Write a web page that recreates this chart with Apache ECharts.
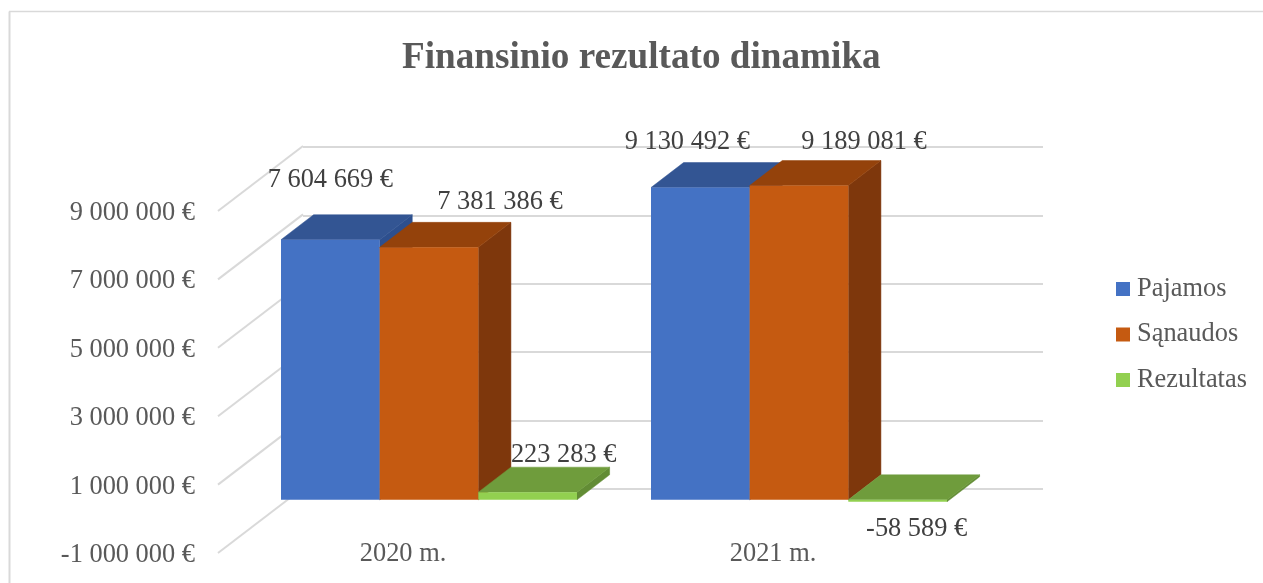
<!DOCTYPE html>
<html><head><meta charset="utf-8">
<style>html,body{margin:0;padding:0;background:#fff}#c{width:1263px;height:583px}</style>
<script src="https://cdn.jsdelivr.net/npm/echarts@6/dist/echarts.min.js"></script>
</head><body><div id="c"></div>
<script>
const titleText = 'Finansinio rezultato dinamika';
const categories = ['2020 m.', '2021 m.'];
const seriesNames = ['Pajamos', 'Sąnaudos', 'Rezultatas'];
const pajamos = [7604669, 9130492];
const sanaudos = [7381386, 9189081];
const rezultatas = [223283, -58589];
const axisTicks = [-1000000, 1000000, 3000000, 5000000, 7000000, 9000000];

const FONT = '"Liberation Serif", serif';
const LIFT = 2;                      // axis labels sit this far below the drawn wall start
const WALL = {dx: 85, dy: -65};      // full floor depth of the pseudo-3D box
const PLANE = {dx: 26, dy: -19 - LIFT}; // where bars' front faces sit inside it
const DEPTH = {dx: 32.6, dy: -25};   // bar depth
const GAP = 0.75;                    // gap width relative to one bar
const palette = [
  {front: '#4472C4', top: '#335593', side: '#2D4F8E'},
  {front: '#C55A11', top: '#94420B', side: '#7E370C'},
  {front: '#92D050', top: '#6F9C3C', side: '#628C35'}
];
// hand-placed data label offsets from each bar's front-top centre
const labelOffsets = [
  [[0, -60], [-13, -45]],
  [[71, -45], [65, -43]],
  [[36, -37], [19, 27]]
];
const fmt = v => {
  const s = String(Math.abs(v)).replace(/\B(?=(\d{3})+$)/g, ' ');
  return (v < 0 ? '-' : '') + s + ' €';
};
const poly = (pts, fill, z2) => ({type: 'polygon', shape: {points: pts}, style: {fill: fill, stroke: fill, lineWidth: 0.5}, z2: z2});

function barSeries(idx, values) {
  return {
    name: seriesNames[idx],
    type: 'custom',
    coordinateSystem: 'cartesian2d',
    xAxisIndex: 0, yAxisIndex: 0,
    z: 3 + idx,
    itemStyle: {color: palette[idx].front},
    data: values.map((v, i) => [i, v]),
    encode: {x: 0, y: 1},
    renderItem(params, api) {
      const cat = api.value(0), v = api.value(1);
      const c = palette[idx];
      const band = api.size([1, 0])[0];
      const w = band / (3 + GAP);
      const zero = api.coord([cat, 0]);
      const val = api.coord([cat, v]);
      const x0 = zero[0] + PLANE.dx + (idx - 1.5) * w;
      const x1 = x0 + w;
      const y0 = zero[1] + PLANE.dy;
      const yv = val[1] + PLANE.dy;
      const yTop = Math.min(y0, yv), yBot = Math.max(y0, yv);
      const d = DEPTH;
      const off = labelOffsets[idx][params.dataIndex];
      return {type: 'group', children: [
        poly([[x1, yTop], [x1 + d.dx, yTop + d.dy], [x1 + d.dx, yBot + d.dy], [x1, yBot]], c.side, 1),
        poly([[x0, yTop], [x1, yTop], [x1 + d.dx, yTop + d.dy], [x0 + d.dx, yTop + d.dy]], c.top, 2),
        {type: 'rect', shape: {x: x0, y: yTop, width: w, height: yBot - yTop}, style: {fill: c.front}, z2: 3},
        {type: 'text', x: (x0 + x1) / 2 + off[0], y: yv + off[1], z2: 10,
         style: {text: fmt(v), fill: '#404040', font: '26.4px ' + FONT, align: 'center', verticalAlign: 'middle'}}
      ]};
    }
  };
}

const chart = echarts.init(document.getElementById('c'), null, {renderer: 'canvas'});
chart.setOption({
  animation: false,
  backgroundColor: '#fff',
  title: {text: titleText, left: 397, top: 35,
    textStyle: {color: '#595959', fontFamily: FONT, fontWeight: 'bold', fontSize: 37.2}},
  legend: {
    data: seriesNames, orient: 'vertical', left: 1111, top: 271,
    icon: 'rect', itemWidth: 14, itemHeight: 14, itemGap: 19.5, selectedMode: false,
    textStyle: {color: '#595959', fontFamily: FONT, fontSize: 26.4, padding: [0, 0, 0, 2]}
  },
  grid: [
    {left: 218, right: 305, top: 211 + LIFT, bottom: 30 - LIFT},
    {left: 303, right: 220, top: 147, bottom: 94}
  ],
  xAxis: [
    {type: 'category', gridIndex: 0, data: categories,
     axisLine: {show: false}, axisTick: {show: false},
     axisLabel: {margin: -12 - LIFT, color: '#595959', fontFamily: FONT, fontSize: 26.4}},
    {type: 'category', gridIndex: 1, data: categories, show: false}
  ],
  yAxis: [
    {type: 'value', gridIndex: 0, min: -1000000, max: 9000000, interval: 2000000,
     axisLine: {show: false}, axisTick: {show: false}, splitLine: {show: false},
     axisLabel: {margin: 23, color: '#595959', fontFamily: FONT, fontSize: 26.4, formatter: fmt}},
    {type: 'value', gridIndex: 1, min: -1000000, max: 9000000, interval: 2000000,
     axisLine: {show: false}, axisTick: {show: false}, axisLabel: {show: false},
     splitLine: {show: true, lineStyle: {color: '#D9D9D9', width: 2}}}
  ],
  graphic: [
    {type: 'line', silent: true, shape: {x1: 9.5, y1: 583, x2: 9.5, y2: 11.5}, style: {stroke: '#D9D9D9', lineWidth: 2}},
    {type: 'line', silent: true, shape: {x1: 9, y1: 11.5, x2: 1263, y2: 11.5}, style: {stroke: '#D9D9D9', lineWidth: 1.5}}
  ],
  series: [
    {name: 'wall', type: 'custom', coordinateSystem: 'cartesian2d', xAxisIndex: 0, yAxisIndex: 0, z: 1, silent: true,
     data: axisTicks.map(t => [0, t]), encode: {x: 0, y: 1},
     renderItem(params, api) {
       const y = api.coord([0, api.value(1)])[1] - LIFT;
       const x = params.coordSys.x;
       return {type: 'line', shape: {x1: x, y1: y, x2: x + WALL.dx, y2: y + WALL.dy},
         style: {stroke: '#D9D9D9', lineWidth: 2, fill: null}};
     }},
    barSeries(0, pajamos),
    barSeries(1, sanaudos),
    barSeries(2, rezultatas)
  ]
});
</script></body></html>
